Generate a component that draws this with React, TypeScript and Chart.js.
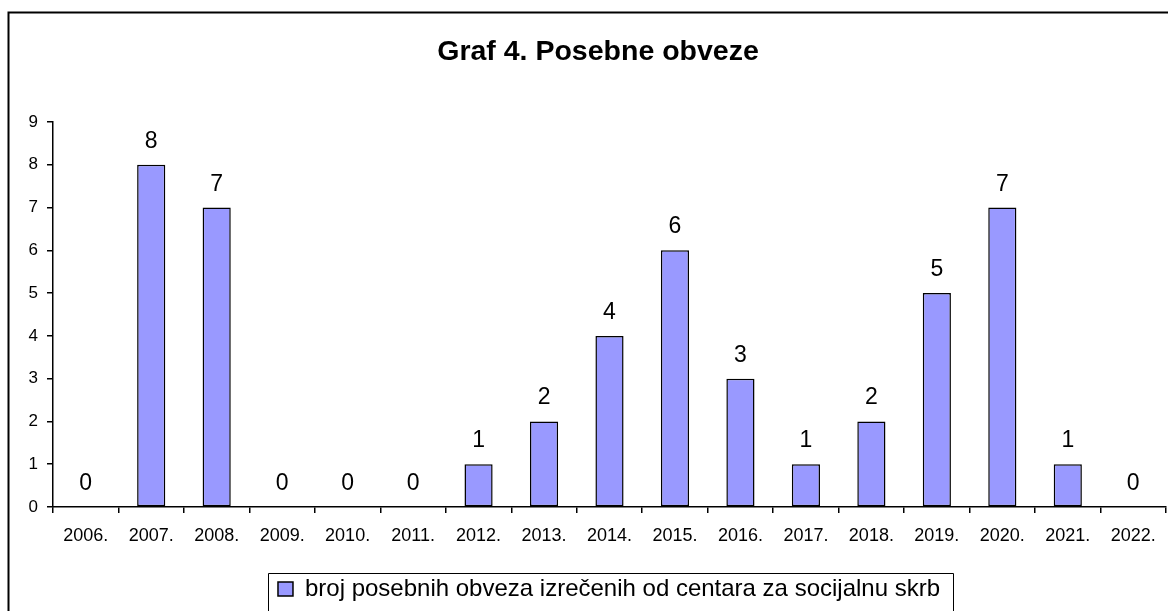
import React, { useEffect, useRef } from "react";
import { Chart, registerables } from "chart.js";

Chart.register(...registerables);

const categories = ["2006.", "2007.", "2008.", "2009.", "2010.", "2011.", "2012.", "2013.", "2014.", "2015.", "2016.", "2017.", "2018.", "2019.", "2020.", "2021.", "2022."];
const values = [0, 8, 7, 0, 0, 0, 1, 2, 4, 6, 3, 1, 2, 5, 7, 1, 0];
const seriesLabel = "broj posebnih obveza izrečenih od centara za socijalnu skrb";
const titleText = "Graf 4. Posebne obveze";
const yTicks = [0, 1, 2, 3, 4, 5, 6, 7, 8, 9];

const FONT = "'Liberation Sans', Arial, Helvetica, sans-serif";
const LEGEND_FONT_SIZE = 24;

const framePlugin = {
  id: "frame",
  beforeDraw(chart: any) {
    const ctx = chart.ctx;
    ctx.save();
    ctx.fillStyle = "#ffffff";
    ctx.fillRect(0, 0, chart.width, chart.height);
    ctx.strokeStyle = "#000000";
    ctx.lineWidth = 2;
    ctx.strokeRect(8.5, 12.5, 1400, 800);
    ctx.restore();
    if (chart.titleBlock) {
      chart.titleBlock.left += 15;
      chart.titleBlock.right += 15;
    }
    if (chart.legend) {
      chart.legend.left += 26;
      chart.legend.right += 26;
    }
  },
  afterDraw(chart: any) {
    const legend = chart.legend;
    if (!legend) return;
    const ctx = chart.ctx;
    ctx.save();
    ctx.font = `${LEGEND_FONT_SIZE}px ${FONT}`;
    const tw = ctx.measureText(seriesLabel).width;
    const itemWidth = 15 + LEGEND_FONT_SIZE / 2 + tw;
    const cx = (legend.left + legend.right) / 2;
    const left = Math.round(cx - itemWidth / 2 - 10) + 0.5;
    const right = Math.round(cx + itemWidth / 2 + 13) + 0.5;
    const top = Math.round(legend.top + 6) + 0.5;
    ctx.strokeStyle = "#000000";
    ctx.lineWidth = 1;
    ctx.beginPath();
    ctx.moveTo(left, chart.height + 10);
    ctx.lineTo(left, top);
    ctx.lineTo(right, top);
    ctx.lineTo(right, chart.height + 10);
    ctx.stroke();
    ctx.restore();
  },
};

const dataLabelPlugin = {
  id: "dataLabels",
  afterDatasetsDraw(chart: any) {
    const ctx = chart.ctx;
    const meta = chart.getDatasetMeta(0);
    ctx.save();
    ctx.font = `23px ${FONT}`;
    ctx.fillStyle = "#000000";
    ctx.textAlign = "center";
    ctx.textBaseline = "alphabetic";
    meta.data.forEach((bar: any, i: number) => {
      ctx.fillText(String(values[i]), bar.x, bar.y - 17);
    });
    ctx.restore();
  },
};

export default function App() {
  const ref = useRef<HTMLCanvasElement | null>(null);

  useEffect(() => {
    if (!ref.current) return;
    const chart = new Chart(ref.current, {
      type: "bar",
      data: {
        labels: categories,
        datasets: [
          {
            label: seriesLabel,
            data: values,
            backgroundColor: "#9999FF",
            borderColor: "#000000",
            borderWidth: 1.5,
            borderSkipped: false,
            barPercentage: 0.43,
            categoryPercentage: 1,
          },
        ],
      },
      options: {
        animation: false,
        responsive: false,
        devicePixelRatio: 1,
        layout: { padding: { left: 0, right: 2, top: 0, bottom: 0 } },
        plugins: {
          title: {
            display: true,
            text: titleText,
            color: "#000000",
            font: { family: FONT, size: 28.5, weight: "bold", lineHeight: 1.2 },
            padding: { top: 35, bottom: 52.8 },
          },
          legend: {
            display: true,
            position: "bottom",
            labels: {
              color: "#000000",
              font: { family: FONT, size: LEGEND_FONT_SIZE },
              boxWidth: 15,
              boxHeight: 14,
              padding: 10,
            },
          },
          tooltip: { enabled: false },
        },
        scales: {
          x: {
            type: "category",
            offset: true,
            grid: {
              offset: true,
              drawOnChartArea: false,
              drawTicks: true,
              tickLength: 6,
              lineWidth: 1.5,
              color: "#000000",
            },
            border: { display: true, color: "#000000", width: 1.5 },
            ticks: {
              color: "#000000",
              font: { family: FONT, size: 18 },
              padding: 12,
              maxRotation: 0,
              minRotation: 0,
              autoSkip: false,
            },
            afterFit(scale: any) {
              scale.height = 60;
            },
          },
          y: {
            min: 0,
            max: 9,
            grid: {
              drawOnChartArea: false,
              drawTicks: true,
              tickLength: 6,
              lineWidth: 1.5,
              color: "#000000",
            },
            border: { display: true, color: "#000000", width: 1.5 },
            afterBuildTicks(scale: any) {
              scale.ticks = yTicks.map((v) => ({ value: v }));
            },
            ticks: {
              color: "#000000",
              font: { family: FONT, size: 17 },
              padding: 9,
            },
            afterFit(scale: any) {
              scale.width = 53;
            },
          },
        },
      },
      plugins: [framePlugin, dataLabelPlugin],
    } as any);
    return () => chart.destroy();
  }, []);

  return (
    <div style={{ position: "fixed", left: 0, top: 0, width: 1168, height: 611, overflow: "hidden", background: "#fff" }}>
      <canvas ref={ref} width={1168} height={611} style={{ display: "block", width: 1168, height: 611 }} />
    </div>
  );
}
